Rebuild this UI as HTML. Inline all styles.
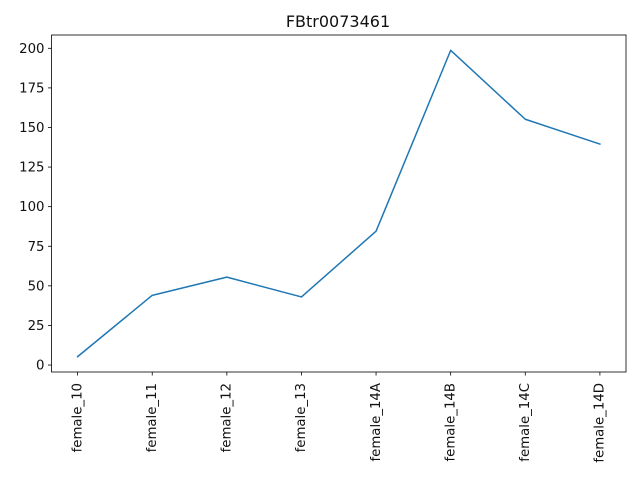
<!DOCTYPE html>
<html><head><meta charset="utf-8"><style>
body{margin:0;background:#fff;}
svg text{font-family:"DejaVu Sans","Liberation Sans",sans-serif;font-size:13.3px;fill:#111;}
</style></head><body>
<svg id="chart" width="640" height="480" xmlns="http://www.w3.org/2000/svg">
<text x="338" y="27" text-anchor="middle" style="font-size:16px">FBtr0073461</text>
<g id="axes"></g>
</svg>
<script>
const categories=["female_10","female_11","female_12","female_13","female_14A","female_14B","female_14C","female_14D"];
const values=[5.3,44,55.5,43,84.5,198.7,155.2,139.5];
const yTicks=[0,25,50,75,100,125,150,175,200];
const L=51.5,R=626,T=35,B=372;
const xMin=-0.35,xMax=categories.length-1+0.35,yMin=-4.4,yMax=208.4;
const sx=i=>L+(i-xMin)/(xMax-xMin)*(R-L);
const sy=v=>B-(v-yMin)/(yMax-yMin)*(B-T);
const NS="http://www.w3.org/2000/svg";
const g=document.getElementById('axes');
function mk(t,a){const e=document.createElementNS(NS,t);for(const k in a)e.setAttribute(k,a[k]);g.appendChild(e);return e;}
yTicks.forEach(v=>{
const y=sy(v);
const t=mk('line',{x1:L-3.5,x2:L,y1:y,y2:y,stroke:'#000','stroke-width':0.8});


const l=mk('text',{x:L-7,y:y+4.5,'text-anchor':'end'});l.textContent=v;


});
categories.forEach((c,i)=>{
const x=sx(i);
const t=mk('line',{x1:x,x2:x,y1:B,y2:B+3.5,stroke:'#000','stroke-width':0.8});


const l=mk('text',{x:0,y:0,'text-anchor':'end',transform:`translate(${x+3.8},${B+11}) rotate(-90)`});l.textContent=c;


});
const p=mk('polyline',{points:values.map((v,i)=>sx(i)+','+sy(v)).join(' '),fill:'none',stroke:'#1f77b4','stroke-width':1.5,'stroke-linejoin':'round','stroke-linecap':'square'});


const f=mk('rect',{x:L,y:T,width:R-L,height:B-T,fill:'none',stroke:'#000','stroke-width':0.8});


</script>
</body></html>
